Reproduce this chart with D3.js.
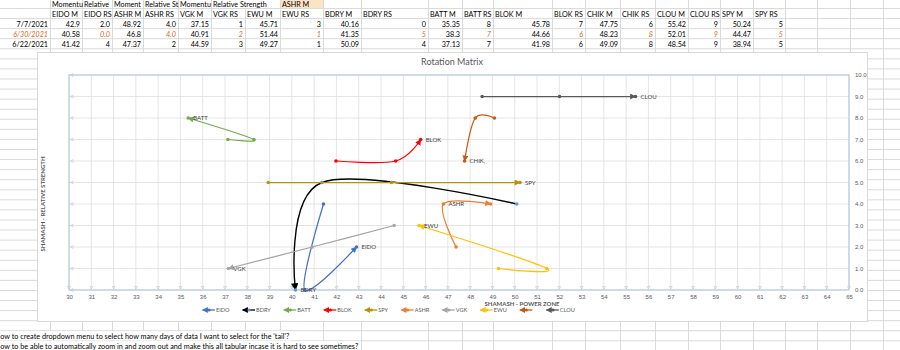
<!DOCTYPE html>
<html>
<head>
<meta charset="utf-8">
<script src="https://cdn.jsdelivr.net/npm/d3@7"></script>
<style>
  html, body { margin: 0; padding: 0; background: #fff; overflow: hidden; }
  svg { display: block; font-family: Lato, "Liberation Sans", Arial, sans-serif; }
</style>
</head>
<body>
<svg id="sheet" width="900" height="350"></svg>
<script>
// ---- data -------------------------------------------------------------
// Sheet rows, newest first
const dates = ["7/7/2021", "6/30/2021", "6/22/2021"];

// Momentum ("M") and relative strength ("RS") per ticker, rows as in `dates`
const eidoM = [42.9, 40.58, 41.42],  eidoRS = [2, 0, 4];
const ashrM = [48.92, 46.8, 47.37],  ashrRS = [4, 4, 2];
const vgkM  = [37.15, 40.91, 44.59], vgkRS  = [1, 2, 3];
const ewuM  = [45.71, 51.44, 49.27], ewuRS  = [3, 1, 1];
const bdryM = [40.16, 41.35, 50.09], bdryRS = [0, 5, 4];
const battM = [35.35, 38.3, 37.13],  battRS = [8, 7, 7];
const blokM = [45.78, 44.66, 41.98], blokRS = [7, 6, 6];
const chikM = [47.75, 48.23, 49.09], chikRS = [6, 8, 8];
const clouM = [55.42, 52.01, 48.54], clouRS = [9, 9, 9];
const spyM  = [50.24, 44.47, 38.94], spyRS  = [5, 5, 5];

// Column order on the sheet
const sheetTickers = ["EIDO", "ASHR", "VGK", "EWU", "BDRY", "BATT", "BLOK", "CHIK", "CLOU", "SPY"];
const momentum = [eidoM, ashrM, vgkM, ewuM, bdryM, battM, blokM, chikM, clouM, spyM];
const strength = [eidoRS, ashrRS, vgkRS, ewuRS, bdryRS, battRS, blokRS, chikRS, clouRS, spyRS];
// RS cells shown with one decimal: [ticker, row]
const oneDecimalCells = [["EIDO", 0], ["EIDO", 1], ["ASHR", 0], ["ASHR", 1]];

// Chart series (legend order), legend names and point labels
const seriesTickers = ["EIDO", "BDRY", "BATT", "BLOK", "SPY", "ASHR", "VGK", "EWU", "CHIK", "CLOU"];
const legendNames   = ["EIDO", "BDRY", "BATT", "BLOK", "SPY", "ASHR", "VGK", "EWU", "", "CLOU"];
const pointLabels   = ["EIDO", "BDRY", "BATT", "BLOK", "SPY", "ASHR", "VGK", "EWU", "CHIK,", "CLOU"];
const labelRow      = [0, 0, 0, 0, 0, 1, 0, 0, 0, 0];

// Axis ticks
const xTicks = d3.range(30, 66);
const yTicks = d3.range(0, 11);

// Header row above the column names
const groupHeaders = ["Momentum", "Relative Strength", "Momentum", "Relative Strength",
                      "Momentum", "Relative Strength", "", "ASHR M"];

const notes = [
  "How to create dropdown menu to select how many days of data I want to select for the 'tail'?",
  "How to be able to automatically zoom in and zoom out and make this all tabular incase it is hard to see sometimes?"
];

// ---- styles -----------------------------------------------------------
const lineColor = {
  EIDO: "#4472c4", BDRY: "#000000", BATT: "#70ad47", BLOK: "#ff0000", SPY: "#bf9000",
  ASHR: "#ed7d31", VGK: "#a5a5a5", EWU: "#ffc000", CHIK: "#c55a11", CLOU: "#595959"
};
const dotColor = Object.assign({}, lineColor, { BDRY: "#5b9bd5" });
const orange = "#d46a25";
const sheetFont = 7.2;
const noteFont = 7.25;
const chartFont = 6;
const legendFont = 5.6;
const chartText = "#595959";

// ---- sheet grid -------------------------------------------------------
const svg = d3.select("#sheet");
const W = 900, H = 350;
const rowTop0 = 8.5, rowH = 10.07;
const rowEdge = k => rowTop0 + k * rowH;   // k = 0 is the line under the first row
const colEdges = [50, 82, 112, 143, 178, 211, 245, 280, 323, 361, 428, 462, 493, 552,
                  585, 620, 655, 688, 720, 753, 785, 817, 850, 883];

const grid = svg.append("g").attr("stroke", "#dadada").attr("stroke-width", 1);
d3.range(0, 35).forEach(k => {
  grid.append("line").attr("x1", 0).attr("x2", W).attr("y1", rowEdge(k)).attr("y2", rowEdge(k));
});
colEdges.forEach(x => {
  grid.append("line").attr("x1", x + 0.5).attr("x2", x + 0.5).attr("y1", 0).attr("y2", H);
});

const defs = svg.append("defs");
const cells = svg.append("g").attr("font-size", sheetFont).attr("fill", "#000");
const rowBase = k => rowEdge(k) - 2;   // text baseline of the row above line k

// cut a text's tail until it fits in the cell, as the sheet does
function fitRight(sel, maxW) {
  const full = sel.text();
  let n = full.length;
  while (n > 1 && sel.node().getComputedTextLength() > maxW) {
    n -= 1;
    sel.text(full.slice(0, n));
  }
}

// first header row: group titles, cut at the next filled cell
groupHeaders.forEach((txt, i) => {
  if (!txt) return;
  const x0 = colEdges[i], x1 = colEdges[i + 1];
  if (txt === "ASHR M") {
    cells.append("rect").attr("x", x0 + 1).attr("y", 0).attr("width", x1 - x0 - 1)
      .attr("height", rowEdge(0) - 0.5).attr("fill", "#fbe3c4");
  }
  const overflow = i === 5;   // the next cell is empty, so this one runs on
  const t = cells.append("text").attr("x", x0 + 2).attr("y", rowBase(0)).text(txt);
  if (overflow) {
    const w = t.node().getComputedTextLength();
    cells.insert("rect", "text").attr("x", x0 + 1).attr("y", 0)
      .attr("width", w + 4).attr("height", rowEdge(0) - 0.5).attr("fill", "#fff");
  } else {
    fitRight(t, x1 - x0 - 0.5);
  }
});

// column names
sheetTickers.forEach((tk, i) => {
  cells.append("text").attr("x", colEdges[2 * i] + 2).attr("y", rowBase(1)).text(tk + " M");
  cells.append("text").attr("x", colEdges[2 * i + 1] + 2).attr("y", rowBase(1)).text(tk + " RS");
});

// data rows
dates.forEach((d, r) => {
  const y = rowBase(2 + r);
  const hist = r === 1;
  cells.append("text").attr("x", colEdges[0] - 2).attr("y", y).attr("text-anchor", "end")
    .attr("fill", hist ? orange : "#000").attr("font-style", hist ? "italic" : null).text(d);
  sheetTickers.forEach((tk, i) => {
    cells.append("text").attr("x", colEdges[2 * i + 1] - 2).attr("y", y)
      .attr("text-anchor", "end").text(String(momentum[i][r]));
    const dec = oneDecimalCells.some(c => c[0] === tk && c[1] === r);
    const v = strength[i][r];
    cells.append("text").attr("x", colEdges[2 * i + 2] - 2).attr("y", y)
      .attr("text-anchor", "end")
      .attr("fill", hist ? orange : "#000").attr("font-style", hist ? "italic" : null)
      .text(dec ? v.toFixed(1) : String(v));
  });
});

// notes under the chart; the sheet is scrolled so their first letter is out of view
notes.forEach((txt, i) => {
  const k = 33 + i;
  const t = cells.append("text").attr("x", 0.3).attr("y", rowBase(k))
    .attr("font-size", noteFont).text(txt.slice(1));
  const w = t.node().getComputedTextLength();
  cells.insert("rect", "text").attr("x", 0).attr("y", rowEdge(k - 1) + 0.5)
    .attr("width", w + 2).attr("height", rowH - 1).attr("fill", "#fff");
});

// ---- chart ------------------------------------------------------------
const box = { x0: 37, y0: 52, x1: 867, y1: 321 };
const chart = svg.append("g");
chart.append("rect").attr("x", box.x0 + 0.5).attr("y", box.y0 + 0.5)
  .attr("width", box.x1 - box.x0).attr("height", box.y1 - box.y0)
  .attr("fill", "#fff").attr("stroke", "#d9d9d9");

const plot = { left: 69, right: 849, top: 75, bottom: 290 };
const x = d3.scaleLinear().domain([30, 65]).range([plot.left, plot.right]);
const y = d3.scaleLinear().domain([0, 10]).range([plot.bottom, plot.top]);

chart.append("text").attr("x", 452).attr("y", 65).attr("text-anchor", "middle")
  .attr("font-size", 9).attr("fill", chartText).text("Rotation Matrix");

// gridlines
const gl = chart.append("g").attr("stroke", "#dedede").attr("stroke-width", 0.8);
xTicks.forEach(v => gl.append("line").attr("x1", x(v)).attr("x2", x(v)).attr("y1", plot.top).attr("y2", plot.bottom));
yTicks.forEach(v => gl.append("line").attr("x1", plot.left).attr("x2", plot.right).attr("y1", y(v)).attr("y2", y(v)));

// plot border
chart.append("rect").attr("x", plot.left).attr("y", plot.top)
  .attr("width", plot.right - plot.left).attr("height", plot.bottom - plot.top)
  .attr("fill", "none").attr("stroke", "#adc1e6").attr("stroke-width", 1);

// small tick markers along the bottom and left edges
const tm = chart.append("g").attr("fill", "none").attr("stroke", "#c8c8c8").attr("stroke-width", 0.6);
xTicks.forEach(v => tm.append("path")
  .attr("d", `M${x(v) - 1.5},${plot.bottom - 3.5}L${x(v) + 1.5},${plot.bottom - 3.5}L${x(v)},${plot.bottom - 1}Z`));
yTicks.forEach(v => tm.append("path")
  .attr("d", `M${plot.left + 4},${y(v) - 1.5}L${plot.left + 4},${y(v) + 1.5}L${plot.left + 1.5},${y(v)}Z`));

// bottom axis labels
const xAxis = d3.axisBottom(x).tickValues(xTicks).tickSize(0).tickPadding(0).tickFormat(d3.format("d"));
const gx = chart.append("g").attr("transform", `translate(0,${plot.bottom + 5})`).call(xAxis);
gx.select(".domain").remove();
gx.selectAll("text").attr("font-size", chartFont).attr("fill", chartText)
  .attr("font-family", null).attr("dy", "0.71em");

// right axis labels
const yAxis = d3.axisRight(y).tickValues(yTicks).tickSize(0).tickPadding(0).tickFormat(d3.format(".1f"));
const gy = chart.append("g").attr("transform", `translate(${plot.right + 6},0)`).call(yAxis);
gy.select(".domain").remove();
gy.selectAll("text").attr("font-size", chartFont).attr("fill", chartText).attr("font-family", null);

// axis titles
chart.append("text").attr("transform", "translate(45,204) rotate(-90)")
  .attr("text-anchor", "middle").attr("font-size", 6).attr("font-weight", "bold")
  .attr("fill", chartText).text("SHAMASH - RELATIVE STRENGTH");
chart.append("text").attr("x", 522).attr("y", 305.5).attr("text-anchor", "middle")
  .attr("font-size", 6).attr("font-weight", "bold").attr("fill", chartText)
  .text("SHAMASH - POWER ZONE");

// arrow markers
function arrowMarker(id, color, big) {
  defs.append("marker").attr("id", id).attr("viewBox", "0 0 10 10")
    .attr("refX", 9).attr("refY", 5)
    .attr("markerUnits", "userSpaceOnUse")
    .attr("markerWidth", big ? 8 : 6.5).attr("markerHeight", big ? 7.5 : 6)
    .attr("orient", "auto-start-reverse")
    .append("path").attr("d", "M0,0L10,5L0,10Z").attr("fill", color);
}

const byTicker = {};
sheetTickers.forEach((tk, i) => {
  byTicker[tk] = dates.map((d, r) => ({ m: momentum[i][r], rs: strength[i][r] }));
});

const line = d3.line().x(d => x(d.m)).y(d => y(d.rs)).curve(d3.curveCatmullRom.alpha(0));
const marks = chart.append("g");

seriesTickers.forEach((tk, i) => {
  const pts = byTicker[tk];               // newest first; arrow sits on the newest point
  const id = "arrow" + i;
  arrowMarker(id, lineColor[tk], tk === "BDRY");
  const g = marks.append("g");
  g.append("path").attr("d", line(pts)).attr("fill", "none")
    .attr("stroke", lineColor[tk]).attr("stroke-width", tk === "BDRY" ? 1.4 : 1.25)
    .attr("marker-start", `url(#${id})`);
  g.selectAll("circle").data(pts).join("circle")
    .attr("cx", d => x(d.m)).attr("cy", d => y(d.rs)).attr("r", 1.8)
    .attr("fill", dotColor[tk]);
  const lp = pts[labelRow[i]];
  g.append("text").attr("x", x(lp.m) + 5).attr("y", y(lp.rs) + 2)
    .attr("font-size", chartFont).attr("fill", "#404040").text(pointLabels[i]);
});

// legend
const legend = chart.append("g").attr("transform", "translate(202,310)");
let lx = 0;
seriesTickers.forEach((tk, i) => {
  const g = legend.append("g").attr("transform", `translate(${lx},0)`);
  const id = "legArrow" + i;
  arrowMarker(id, lineColor[tk], false);
  g.append("line").attr("x1", 0.5).attr("x2", 13).attr("y1", 0).attr("y2", 0)
    .attr("stroke", lineColor[tk]).attr("stroke-width", 1.3).attr("marker-start", `url(#${id})`);
  g.append("circle").attr("cx", 7).attr("cy", 0).attr("r", 1.6).attr("fill", dotColor[tk]);
  let w = 0;
  if (legendNames[i]) {
    const t = g.append("text").attr("x", 14).attr("y", 2).attr("font-size", legendFont)
      .attr("fill", chartText).text(legendNames[i]);
    w = t.node().getComputedTextLength();
  }
  lx += 14 + w + 12.5;
});
</script>
</body>
</html>
